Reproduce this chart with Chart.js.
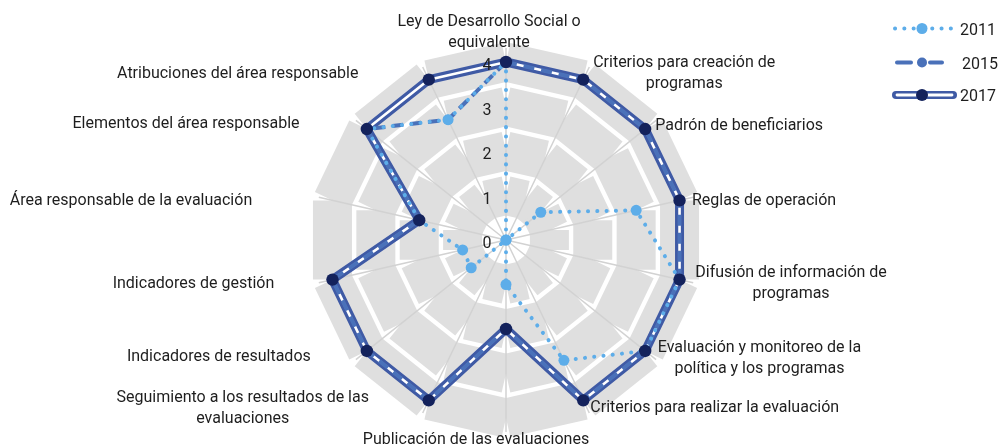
<!DOCTYPE html>
<html><head><meta charset="utf-8">
<script src="https://cdn.jsdelivr.net/npm/chart.js@4.4.1/dist/chart.umd.min.js"></script>
<style>html,body{margin:0;padding:0;background:#fff;overflow:hidden}canvas{display:block}</style>
</head><body>
<canvas id="c" width="1000" height="448" style="width:1000px;height:448px"></canvas>
<script>
// ---------- data ----------
const categories = [
  ['Ley de Desarrollo Social o', 'equivalente'],
  ['Criterios para creación de', 'programas'],
  ['Padrón de beneficiarios'],
  ['Reglas de operación'],
  ['Difusión de información de', 'programas'],
  ['Evaluación y monitoreo de la', 'política y los programas'],
  ['Criterios para realizar la evaluación'],
  ['Publicación de las evaluaciones'],
  ['Seguimiento a los resultados de las', 'evaluaciones'],
  ['Indicadores de resultados'],
  ['Indicadores de gestión'],
  ['Área responsable de la evaluación'],
  ['Elementos del área responsable'],
  ['Atribuciones del área responsable']
];
const seriesNames = ['2011', '2015', '2017'];
const values2011 = [4, 0, 1, 3, 4, 4, 3, 1, 0, 1, 1, 2, 4, 3];
const values2015 = [4, 4, 4, 4, 4, 4, 4, 2, 4, 4, 4, 2, 4, 3];
const values2017 = [4, 4, 4, 4, 4, 4, 4, 2, 4, 4, 4, 2, 4, 4];
const tickValues = [0, 1, 2, 3, 4];

// ---------- styling / layout ----------
const FONT = 'Roboto, "Noto Sans", sans-serif';
const TEXT = '#1e1e1e';
const C2011 = '#5dade9', C2015 = '#4a71b9', C2017 = '#3f5aa5', C2017M = '#14225c';
// label text offsets (dx, baseline dy) relative to the outer end of each axis
const labelOffsets = [
  [-17, -35.6], [101, -13.1], [94, 0.7], [84.5, 4.3], [111.5, -2.2], [114.3, 1.4], [131.5, 11.3],
  [-30, 26], [-186, 1.3], [-148, 9.7], [-139, 8.8], [-201.5, 4.3], [-180.8, -0.6], [-191, -1.2]
];
const LINE_H = 21;

const bgPlugin = {
  id: 'bgGrid',
  beforeDatasetsDraw(chart) {
    const ctx = chart.ctx, s = chart.scales.r, n = chart.data.labels.length;
    ctx.save();
    // gray bands (segment-wise, butt caps)
    ctx.lineCap = 'butt';
    ctx.strokeStyle = '#dfdfdf';
    ctx.lineWidth = 39;
    s.ticks.forEach(t => {
      if (t.value <= 0) return;
      const r = s.getDistanceFromCenterForValue(t.value);
      for (let i = 0; i < n; i++) {
        const a = s.getPointPosition(i, r), b = s.getPointPosition((i + 1) % n, r);
        ctx.beginPath(); ctx.moveTo(a.x, a.y); ctx.lineTo(b.x, b.y); ctx.stroke();
      }
    });
    // spokes
    ctx.strokeStyle = '#d2d2d2';
    ctx.lineWidth = 1.5;
    for (let i = 0; i < n; i++) {
      const p = s.getPointPosition(i, s.drawingArea + 14);
      ctx.beginPath(); ctx.moveTo(s.xCenter, s.yCenter); ctx.lineTo(p.x, p.y); ctx.stroke();
    }
    ctx.restore();
  },
  afterDraw(chart) {
    const ctx = chart.ctx, s = chart.scales.r;
    ctx.save();
    ctx.fillStyle = TEXT;
    ctx.font = '16px ' + FONT;
    ctx.textAlign = 'center';
    ctx.textBaseline = 'alphabetic';
    // tick labels
    s.ticks.forEach(t => {
      const y = s.yCenter - s.getDistanceFromCenterForValue(t.value);
      ctx.fillText(String(t.value), s.xCenter - 19, y + 8);
    });
    // point labels
    chart.data.labels.forEach((lab, i) => {
      const p = s.getPointPosition(i, s.drawingArea);
      const [dx, dy] = labelOffsets[i];
      lab.forEach((line, k) => ctx.fillText(line, p.x + dx, p.y + dy + k * LINE_H));
    });
    // legend
    const mx = 922;
    // 2011
    let y = 28.5;
    ctx.strokeStyle = C2011; ctx.lineWidth = 4; ctx.lineCap = 'round'; ctx.setLineDash([0.1, 9.2]);
    ctx.beginPath(); ctx.moveTo(895, y); ctx.lineTo(953, y); ctx.stroke();
    ctx.setLineDash([]);
    ctx.fillStyle = C2011; ctx.beginPath(); ctx.arc(mx, y, 5.5, 0, Math.PI * 2); ctx.fill();
    // 2015
    y = 62.5;
    ctx.strokeStyle = C2015; ctx.lineWidth = 4; ctx.lineCap = 'round'; ctx.setLineDash([14, 19]);
    ctx.beginPath(); ctx.moveTo(897, y); ctx.lineTo(942, y); ctx.stroke();
    ctx.setLineDash([]);
    ctx.fillStyle = C2015; ctx.beginPath(); ctx.arc(mx, y, 5, 0, Math.PI * 2); ctx.fill();
    // 2017
    y = 95;
    ctx.strokeStyle = C2017; ctx.lineWidth = 8; ctx.lineCap = 'round';
    ctx.beginPath(); ctx.moveTo(896, y); ctx.lineTo(953, y); ctx.stroke();
    ctx.strokeStyle = '#ffffff'; ctx.lineWidth = 2.8;
    ctx.beginPath(); ctx.moveTo(897, y); ctx.lineTo(952, y); ctx.stroke();
    ctx.fillStyle = C2017M; ctx.beginPath(); ctx.arc(mx, y, 6, 0, Math.PI * 2); ctx.fill();
    // legend texts
    ctx.fillStyle = TEXT; ctx.font = '16px ' + FONT; ctx.textAlign = 'left';
    ctx.fillText(seriesNames[0], 960, 34.5);
    ctx.fillText(seriesNames[1], 962, 68.5);
    ctx.fillText(seriesNames[2], 960, 101);
    ctx.restore();
  }
};

new Chart(document.getElementById('c'), {
  type: 'radar',
  data: {
    labels: categories,
    datasets: [
      { label: seriesNames[2], data: values2017, showLine: false, pointRadius: 6.2, pointBackgroundColor: C2017M,
        pointBorderWidth: 0, borderColor: C2017M, backgroundColor: 'rgba(0,0,0,0)', fill: false, clip: false },
      { label: seriesNames[0], data: values2011, borderColor: C2011, borderWidth: 4, borderDash: [0.1, 9.2],
        borderCapStyle: 'round', pointRadius: 5.5, pointBackgroundColor: C2011, pointBorderWidth: 0,
        backgroundColor: 'rgba(0,0,0,0)', fill: false, clip: false },
      { label: seriesNames[1], data: values2015, borderColor: C2015, borderWidth: 4, borderDash: [11, 7],
        pointRadius: 5, pointBackgroundColor: C2015, pointBorderWidth: 0,
        backgroundColor: 'rgba(0,0,0,0)', fill: false, clip: false },
      { label: seriesNames[2], data: values2017, borderColor: '#ffffff', borderWidth: 2.6,
        pointRadius: 0, backgroundColor: 'rgba(0,0,0,0)', fill: false, clip: false },
      { label: seriesNames[2], data: values2017, borderColor: C2017, borderWidth: 9, borderJoinStyle: 'miter',
        pointRadius: 0, backgroundColor: 'rgba(0,0,0,0)', fill: false, clip: false }
    ]
  },
  options: {
    responsive: false,
    animation: false,
    devicePixelRatio: 1,
    layout: { padding: { left: 106, right: 94, top: 62, bottom: 30 } },
    elements: { line: { tension: 0, fill: false } },
    plugins: { legend: { display: false }, tooltip: { enabled: false } },
    scales: {
      r: {
        min: tickValues[0], max: tickValues[tickValues.length - 1],
        ticks: { display: false, stepSize: 1 },
        grid: { display: false },
        angleLines: { display: false },
        pointLabels: { display: false }
      }
    }
  },
  plugins: [bgPlugin]
});
</script>
</body></html>
